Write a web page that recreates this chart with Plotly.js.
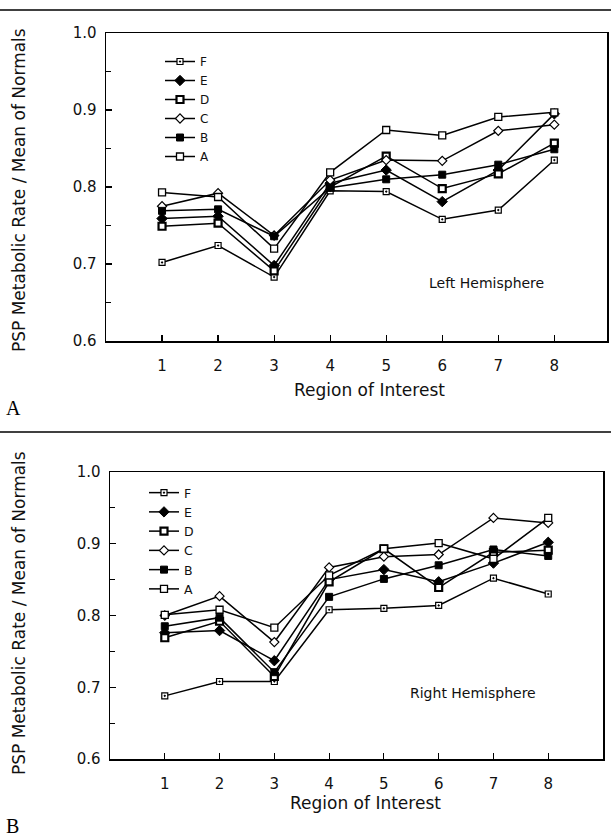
<!DOCTYPE html>
<html>
<head>
<meta charset="utf-8">
<script src="https://cdn.plot.ly/plotly-3.0.1.min.js"></script>
<style>html,body{margin:0;padding:0;background:#fff;}#chart{width:611px;height:840px;}</style>
</head>
<body>
<div id="chart"></div>
<script>
// ---- data ----
var regions = [1, 2, 3, 4, 5, 6, 7, 8];
var seriesNames = ["F", "E", "D", "C", "B", "A"];   // legend order (top to bottom)

// Left hemisphere (panel A)
var leftA = [0.793, 0.787, 0.720, 0.819, 0.874, 0.867, 0.891, 0.897];
var leftB = [0.769, 0.771, 0.736, 0.799, 0.810, 0.816, 0.829, 0.849];
var leftC = [0.775, 0.792, 0.737, 0.809, 0.835, 0.834, 0.873, 0.881];
var leftD = [0.749, 0.753, 0.691, 0.800, 0.840, 0.798, 0.817, 0.857];
var leftE = [0.759, 0.762, 0.698, 0.805, 0.822, 0.781, 0.822, 0.895];
var leftF = [0.702, 0.724, 0.683, 0.795, 0.794, 0.758, 0.770, 0.835];

// Right hemisphere (panel B)
var rightA = [0.801, 0.808, 0.783, 0.856, 0.893, 0.901, 0.879, 0.936];
var rightB = [0.785, 0.797, 0.721, 0.826, 0.851, 0.870, 0.892, 0.883];
var rightC = [0.800, 0.827, 0.763, 0.867, 0.882, 0.885, 0.936, 0.929];
var rightD = [0.769, 0.792, 0.715, 0.847, 0.893, 0.839, 0.888, 0.891];
var rightE = [0.776, 0.779, 0.737, 0.850, 0.864, 0.847, 0.873, 0.902];
var rightF = [0.688, 0.708, 0.708, 0.808, 0.810, 0.814, 0.852, 0.830];

var yTickVals = [0.6, 0.7, 0.8, 0.9, 1.0];
var yTickText = ["0.6", "0.7", "0.8", "0.9", "1.0"];

// ---- styles ----
var FONT = "DejaVu Sans, Arial, sans-serif";
var markerStyles = {
  A: {symbol: "square", size: 7, color: "#fff", line: {color: "#000", width: 1.3}},
  B: {symbol: "square", size: 7, color: "#000", line: {color: "#000", width: 1}},
  C: {symbol: "diamond", size: 7, color: "#fff", line: {color: "#000", width: 1.2}},
  D: {symbol: "square", size: 7, color: "#fff", line: {color: "#000", width: 2.2}},
  E: {symbol: "diamond", size: 8, color: "#000", line: {color: "#000", width: 1}},
  F: {symbol: "square-dot", size: 6, color: "#fff", line: {color: "#000", width: 1.2}}
};

var leftData = {A: leftA, B: leftB, C: leftC, D: leftD, E: leftE, F: leftF};
var rightData = {A: rightA, B: rightB, C: rightC, D: rightD, E: rightE, F: rightF};

var traces = [];
seriesNames.forEach(function (n) {
  traces.push({
    x: regions, y: leftData[n], name: n, type: "scatter", mode: "lines+markers",
    xaxis: "x", yaxis: "y", legend: "legend",
    line: {color: "#000", width: 1.5}, marker: markerStyles[n], cliponaxis: false
  });
});
seriesNames.forEach(function (n) {
  traces.push({
    x: regions, y: rightData[n], name: n, type: "scatter", mode: "lines+markers",
    xaxis: "x2", yaxis: "y2", legend: "legend2",
    line: {color: "#000", width: 1.5}, marker: markerStyles[n], cliponaxis: false
  });
});

function px(x) { return x / 611; }
function py(y) { return 1 - y / 840; }

function xAxis(domain, range) {
  return {
    domain: domain, range: range, tickvals: regions, ticktext: regions.map(String),
    ticks: "inside", ticklen: 6, tickwidth: 1.2, tickcolor: "#000",
    showline: true, mirror: true, linecolor: "#000", linewidth: 1.5,
    showgrid: false, zeroline: false, ticklabelstandoff: 10,
    tickfont: {family: FONT, size: 15, color: "#111"}
  };
}
function yAxis(domain, anchor) {
  return {
    domain: domain, range: [0.6, 1.0], tickvals: yTickVals, ticktext: yTickText,
    ticks: "inside", ticklen: 6, tickwidth: 1.2, tickcolor: "#000",
    minor: {dtick: 0.05, tick0: 0.6, ticks: "inside", ticklen: 5, tickcolor: "#000", showgrid: false},
    showline: true, mirror: true, linecolor: "#000", linewidth: 1.5,
    showgrid: false, zeroline: false, anchor: anchor, ticklabelstandoff: 5,
    tickfont: {family: FONT, size: 15, color: "#111"}
  };
}

function ann(text, x, y, size, extra) {
  var a = {text: text, xref: "paper", yref: "paper", x: px(x), y: py(y),
    xanchor: "center", yanchor: "middle", showarrow: false,
    font: {family: FONT, size: size, color: "#111"}};
  return Object.assign(a, extra || {});
}

var layout = {
  width: 611, height: 840,
  margin: {l: 0, r: 0, t: 0, b: 0},
  paper_bgcolor: "#fff", plot_bgcolor: "#fff",
  font: {family: FONT, color: "#111"},
  showlegend: true,
  xaxis: xAxis([px(106), px(607)], [0, 8.94]),
  yaxis: yAxis([py(341), py(33)], "x"),
  xaxis2: Object.assign(xAxis([px(110), px(603)], [0, 9]), {anchor: "y2"}),
  yaxis2: yAxis([py(759), py(472)], "x2"),
  legend: {x: px(160), y: py(47), xanchor: "left", yanchor: "top", traceorder: "normal",
    bgcolor: "rgba(0,0,0,0)", font: {family: FONT, size: 12, color: "#111"}},
  legend2: {x: px(144), y: py(478), xanchor: "left", yanchor: "top", traceorder: "normal",
    bgcolor: "rgba(0,0,0,0)", font: {family: FONT, size: 12.5, color: "#111"}},
  shapes: [
    {type: "line", xref: "paper", yref: "paper", x0: 0, x1: 1, y0: py(10), y1: py(10), line: {color: "#000", width: 1.3}},
    {type: "line", xref: "paper", yref: "paper", x0: 0, x1: 1, y0: py(432), y1: py(432), line: {color: "#000", width: 1.3}}
  ],
  annotations: [
    ann("PSP Metabolic Rate / Mean of Normals", 19, 190, 17, {textangle: -90}),
    ann("PSP Metabolic Rate / Mean of Normals", 19, 613, 17, {textangle: -90}),
    ann("Region of Interest", 369, 390, 17),
    ann("Region of Interest", 365, 803, 17),
    ann("Left Hemisphere", 487, 283, 14),
    ann("Right Hemisphere", 473, 693, 14),
    ann("A", 13, 408, 20, {font: {family: "Liberation Serif, serif", size: 20, color: "#000"}}),
    ann("B", 12, 826, 20, {font: {family: "Liberation Serif, serif", size: 20, color: "#000"}})
  ],
  hovermode: false
};

Plotly.newPlot("chart", traces, layout, {displayModeBar: false, staticPlot: true});
</script>
</body>
</html>
